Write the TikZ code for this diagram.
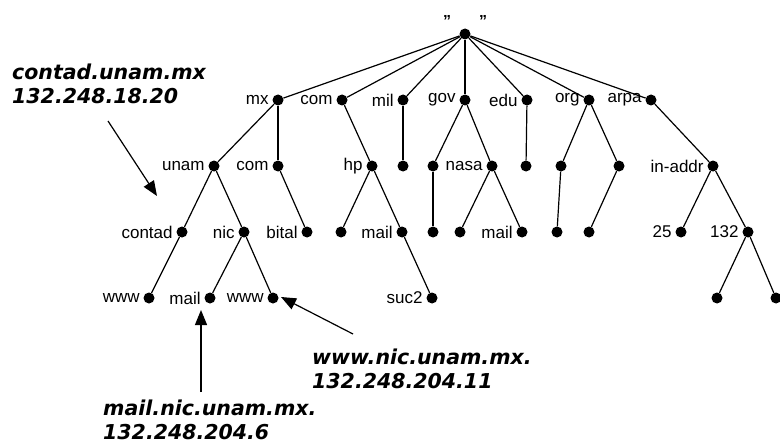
\documentclass[tikz,border=0pt]{standalone}
\usepackage{fontspec}
\setmainfont{Liberation Sans}
\newfontfamily\notefont{DejaVu Sans}
\usetikzlibrary{arrows.meta}

\begin{document}
\begin{tikzpicture}[x=1pt,y=-1pt,
    dot/.style={circle,fill=black,inner sep=0pt,minimum size=11pt},
    every label/.style={font=\fontsize{17}{18}\selectfont,inner sep=1pt},
    label distance=2.5pt,
    edge/.style={line width=1.2pt},
    note/.style={font=\notefont\bfseries\itshape\fontsize{20.5}{24}\selectfont,align=left,anchor=north west,inner sep=0pt},
    pointer/.style={line width=1.2pt,-{Triangle[length=15pt,width=12pt]}}]
    \useasboundingbox (0,0) rectangle (780,444);
    % root of the name space
    \node (root) at (465,34) [dot] {};
    \node (quotes) at (465,27) [anchor=base,font=\bfseries\fontsize{16}{18}\selectfont] {\char34\hspace{28pt}\char34};
    % top level domains
    \node (mx) at (278,100) [dot,label=left:mx] {};
    \node (com) at (342,100) [dot,label=left:com] {};
    \node (mil) at (403,100) [dot,label=left:mil] {};
    \node (gov) at (465,100) [dot,label=left:gov] {};
    \node (edu) at (527,100) [dot,label=left:edu] {};
    \node (org) at (589,100) [dot,label=left:org] {};
    \node (arpa) at (651,100) [dot,label=left:arpa] {};
    % second level
    \node (unam) at (214,166) [dot,label=left:unam] {};
    \node (mxcom) at (278,166) [dot,label=left:com] {};
    \node (hp) at (372,166) [dot,label=left:hp] {};
    \node (milsub) at (403,166) [dot] {};
    \node (govsub) at (433,166) [dot] {};
    \node (nasa) at (492,166) [dot,label=left:nasa] {};
    \node (edusub) at (526,166) [dot] {};
    \node (orgl) at (561,166) [dot] {};
    \node (orgr) at (619,166) [dot] {};
    \node (inaddr) at (713,166) [dot,label=left:in-addr] {};
    % third level
    \node (contad) at (182,232) [dot,label=left:contad] {};
    \node (nic) at (244,232) [dot,label=left:nic] {};
    \node (bital) at (307,232) [dot,label=left:bital] {};
    \node (hpl) at (341,232) [dot] {};
    \node (hpmail) at (402,232) [dot,label=left:mail] {};
    \node (govsubl) at (433,232) [dot] {};
    \node (nasal) at (460,232) [dot] {};
    \node (nasamail) at (522,232) [dot,label=left:mail] {};
    \node (orgll) at (557,232) [dot] {};
    \node (orgrl) at (589,232) [dot] {};
    \node (n25) at (681,232) [dot,label=left:25] {};
    \node (n132) at (748,232) [dot,label=left:132] {};
    % hosts
    \node (contadwww) at (149,298) [dot,label=left:www] {};
    \node (nicmail) at (210,298) [dot,label=left:mail] {};
    \node (nicwww) at (273,298) [dot,label=left:www] {};
    \node (suc2) at (432,298) [dot,label=left:suc2] {};
    \node (leafl) at (717,298) [dot] {};
    \node (leafr) at (776,298) [dot] {};
    \foreach \a/\b in {root/mx,root/com,root/mil,root/gov,root/edu,root/org,root/arpa,
        mx/unam,mx/mxcom,com/hp,mil/milsub,gov/govsub,gov/nasa,edu/edusub,org/orgl,org/orgr,arpa/inaddr,
        unam/contad,unam/nic,mxcom/bital,hp/hpl,hp/hpmail,govsub/govsubl,nasa/nasal,nasa/nasamail,
        orgl/orgll,orgr/orgrl,inaddr/n25,inaddr/n132,
        contad/contadwww,nic/nicmail,nic/nicwww,hpmail/suc2,n132/leafl,n132/leafr}
      \draw[edge] (\a) -- (\b);
    % annotations
    \node (contadnote) at (12,64) [note] {contad.unam.mx\\132.248.18.20};
    \node (mailnote) at (103,400) [note] {mail.nic.unam.mx.\\132.248.204.6};
    \node (wwwnote) at (312,349) [note] {www.nic.unam.mx.\\132.248.204.11};
    \coordinate (contadfrom) at (108,121);
    \coordinate (contadto) at (157,196);
    \coordinate (mailfrom) at (201,392);
    \coordinate (mailto) at (201,310);
    \coordinate (wwwfrom) at (353,334);
    \coordinate (wwwto) at (281,297);
    \draw[pointer] (contadfrom) -- (contadto);
    \draw[pointer] (mailfrom) -- (mailto);
    \draw[pointer] (wwwfrom) -- (wwwto);
\end{tikzpicture}
\end{document}
